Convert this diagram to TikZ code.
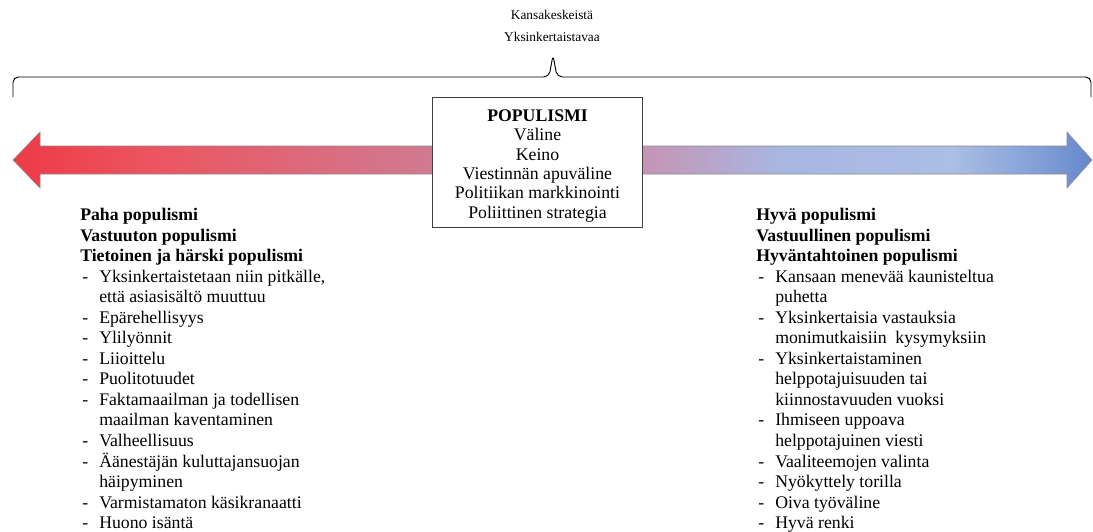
\documentclass[tikz,border=0pt]{standalone}
\usepackage{fontspec}
\setmainfont{Liberation Serif}
\usetikzlibrary{positioning}

\pgfdeclarehorizontalshading{barshade}{100bp}{%
  rgb(0bp)=(0.933,0.227,0.275);
  rgb(25bp)=(0.933,0.227,0.275);
  rgb(31.35bp)=(0.922,0.333,0.373);
  rgb(44.3bp)=(0.816,0.478,0.569);
  rgb(54.5bp)=(0.769,0.588,0.714);
  rgb(60.5bp)=(0.659,0.714,0.882);
  rgb(68.5bp)=(0.667,0.745,0.902);
  rgb(73bp)=(0.490,0.608,0.831);
  rgb(75bp)=(0.392,0.529,0.804);
  rgb(100bp)=(0.392,0.529,0.804)}

\tikzset{
  listtext/.style={anchor=north west, inner sep=0pt, font=\fontsize{13.3pt}{15.4pt}\selectfont},
  boxtext/.style={draw=black!75, fill=white, line width=0.6pt,
    minimum width=158pt, minimum height=97.5pt, inner sep=0pt},
}

\newcommand{\lhead}[1]{\multicolumn{2}{@{}l@{}}{\textbf{#1}}\\}
\newcommand{\litem}[1]{\hspace{1.5pt}- & #1\\}
\newcommand{\lcont}[1]{ & #1\\}

\begin{document}
\begin{tikzpicture}[x=0.75pt,y=-0.75pt]
  \useasboundingbox (0,0) rectangle (1093,532);

  % top labels
  \node[align=center, inner sep=0pt, font=\fontsize{10pt}{16.5pt}\selectfont] (top) at (552,26)
    {Kansakeskeistä\\Yksinkertaistavaa};
  \coordinate (tip) at (553,55);

  % the brace
  \draw[line width=0.7pt, rounded corners=4pt]
    (13,97) -- (13,77) -- (549,77) -- (tip) -- (557,77) -- (1091,77) -- (1091,97);

  % the double arrow
  \path[draw=black!45, line width=0.4pt, shading=barshade]
    (13,160) -- (40,132) -- (40,146) -- (1067,146) -- (1067,132) -- (1092,160)
    -- (1067,188) -- (1067,174) -- (40,174) -- (40,188) -- cycle;

  % middle box
  \node[boxtext] (box) at (537.5,162) {};
  \node[align=center, inner sep=0pt, font=\fontsize{13.3pt}{14.5pt}\selectfont] (boxlbl) at ([yshift=-3pt]box.center)
    {\textbf{POPULISMI}\\Väline\\Keino\\Viestinnän apuväline\\Politiikan markkinointi\\Poliittinen strategia};

  % bad populism
  \node[listtext] (bad) at (80,206) {%
    \begin{tabular}{@{}p{14.25pt}@{}l@{}}
      \lhead{Paha populismi}
      \lhead{Vastuuton populismi}
      \lhead{Tietoinen ja härski populismi}
      \litem{Yksinkertaistetaan niin pitkälle,}
      \lcont{että asiasisältö muuttuu}
      \litem{Epärehellisyys}
      \litem{Ylilyönnit}
      \litem{Liioittelu}
      \litem{Puolitotuudet}
      \litem{Faktamaailman ja todellisen}
      \lcont{maailman kaventaminen}
      \litem{Valheellisuus}
      \litem{Äänestäjän kuluttajansuojan}
      \lcont{häipyminen}
      \litem{Varmistamaton käsikranaatti}
      \litem{Huono isäntä}
    \end{tabular}};

  % good populism
  \node[listtext] (good) at (756,206) {%
    \begin{tabular}{@{}p{14.25pt}@{}l@{}}
      \lhead{Hyvä populismi}
      \lhead{Vastuullinen populismi}
      \lhead{Hyväntahtoinen populismi}
      \litem{Kansaan menevää kaunisteltua}
      \lcont{puhetta}
      \litem{Yksinkertaisia vastauksia}
      \lcont{monimutkaisiin \ kysymyksiin}
      \litem{Yksinkertaistaminen}
      \lcont{helppotajuisuuden tai}
      \lcont{kiinnostavuuden vuoksi}
      \litem{Ihmiseen uppoava}
      \lcont{helppotajuinen viesti}
      \litem{Vaaliteemojen valinta}
      \litem{Nyökyttely torilla}
      \litem{Oiva työväline}
      \litem{Hyvä renki}
    \end{tabular}};
\end{tikzpicture}
\end{document}
